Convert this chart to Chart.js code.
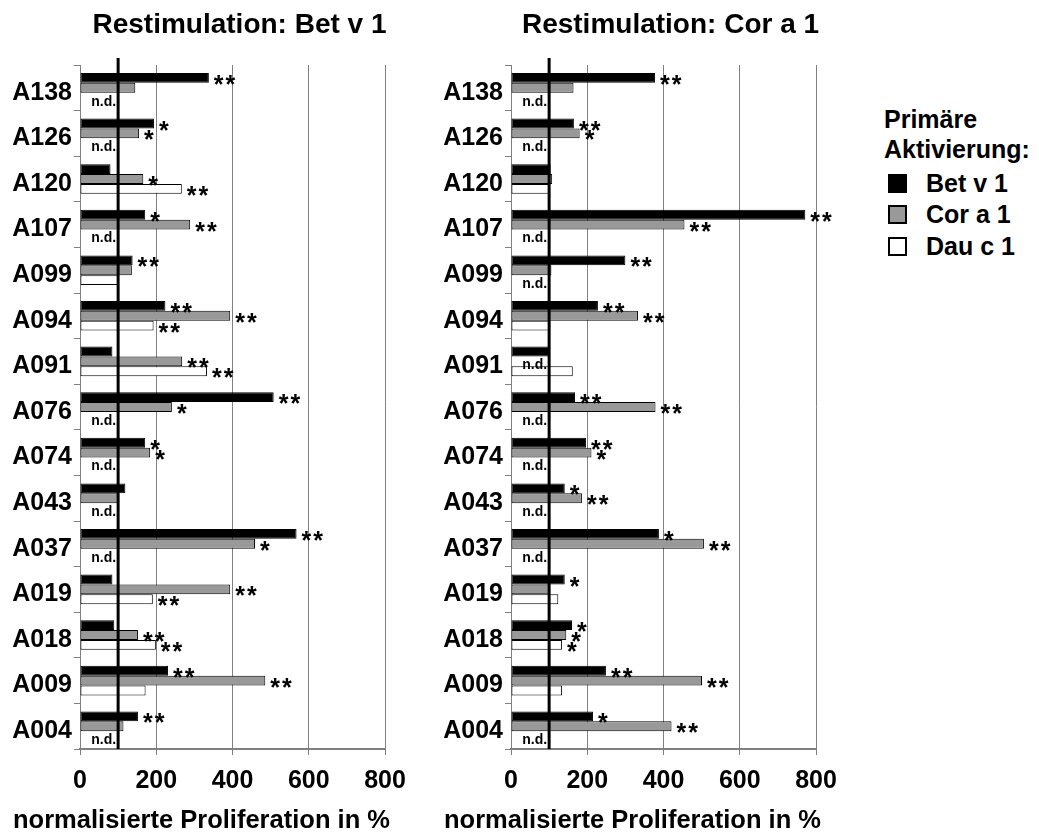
<!DOCTYPE html>
<html><head><meta charset="utf-8">
<script src="https://cdn.jsdelivr.net/npm/chart.js@4/dist/chart.umd.min.js"></script>
<style>
html,body{margin:0;padding:0;background:#fff;width:1039px;height:836px;overflow:hidden;font-family:"Liberation Sans",Arial,sans-serif;}
#c1{position:absolute;left:0;top:0;}
#c2{position:absolute;left:431px;top:0;}
.lg{position:absolute;font-weight:bold;font-size:25px;color:#000;line-height:30px;white-space:nowrap;}
.sq{position:absolute;width:19px;height:19px;box-sizing:border-box;border:2px solid #000;}
</style></head>
<body>
<canvas id="c1" width="430" height="836"></canvas>
<canvas id="c2" width="440" height="836"></canvas>
<div class="lg" style="left:884px;top:104px;">Primäre</div>
<div class="lg" style="left:884px;top:134px;">Aktivierung:</div>
<div class="sq" style="left:888px;top:174px;background:#000;"></div>
<div class="lg" style="left:926px;top:168px;">Bet v 1</div>
<div class="sq" style="left:888px;top:205px;background:#999;"></div>
<div class="lg" style="left:926px;top:199px;">Cor a 1</div>
<div class="sq" style="left:888px;top:237px;background:#fff;"></div>
<div class="lg" style="left:926px;top:231px;">Dau c 1</div>
<script>
const categories = ['A138','A126','A120','A107','A099','A094','A091','A076','A074','A043','A037','A019','A018','A009','A004'];
const seriesNames = ['Bet v 1','Cor a 1','Dau c 1'];
const xTicks = [0,200,400,600,800];
const baseline = 100;

// Restimulation: Bet v 1
const betBet = [338,194,80,171,138,224,85,508,171,119,568,85,90,231,152];
const betCor = [145,155,166,289,136,394,268,241,184,100,459,394,152,486,114];
const betDau = [null,null,267,null,100,193,333,null,null,null,null,191,199,172,null];
const betBetStars = ['**','*','','*','**','**','','**','*','','**','','','**','**'];
const betCorStars = ['','*','*','**','','**','**','*','*','','*','**','**','**',''];
const betDauStars = ['','','**','','','**','**','','','','','**','**','',''];

// Restimulation: Cor a 1
const corBet = [378,165,104,772,300,228,101,168,197,141,388,141,160,249,215];
const corCor = [164,180,108,455,106,333,null,379,211,186,506,100,145,501,421];
const corDau = [null,null,100,null,null,103,162,null,null,null,null,124,134,134,null];
const corBetStars = ['**','**','','**','**','**','','**','**','*','*','*','*','**','*'];
const corCorStars = ['','*','','**','','**','','**','*','**','**','','*','**','**'];
const corDauStars = ['','','','','','','','','','','','','*','',''];

const FONT = '"Liberation Sans", Arial, sans-serif';
const fills = ['#000000','#999999','#ffffff'];

const overlay = {
  id: 'overlay',
  afterDatasetsDraw(chart) {
    const {ctx, chartArea, scales} = chart;
    const xs = scales.x;
    const o = chart.options.plugins.overlay;
    const px100 = xs.getPixelForValue(baseline);
    ctx.save();
    chart.data.datasets.forEach((ds, di) => {
      const meta = chart.getDatasetMeta(di);
      meta.data.forEach((el, i) => {
        const v = ds.data[i];
        if (v === null) {
          ctx.font = 'bold 14px ' + FONT;
          ctx.fillStyle = '#000';
          ctx.textAlign = 'right';
          ctx.textBaseline = 'middle';
          ctx.fillText('n.d.', px100 - 2, el.y + 4);
        } else if (o.stars[di][i]) {
          ctx.font = 'bold 25px ' + FONT;
          ctx.fillStyle = '#000';
          ctx.textAlign = 'left';
          ctx.textBaseline = 'alphabetic';
          if ('letterSpacing' in ctx) ctx.letterSpacing = '2px';
          ctx.fillText(o.stars[di][i], el.x + 5, el.y + 15);
          if ('letterSpacing' in ctx) ctx.letterSpacing = '0px';
        }
      });
    });
    // reference line at 100 %
    ctx.beginPath();
    ctx.lineWidth = 3;
    ctx.strokeStyle = '#000';
    ctx.moveTo(px100, chartArea.top - 7);
    ctx.lineTo(px100, chartArea.bottom);
    ctx.stroke();
    // titles
    const cx = (chartArea.left + chartArea.right) / 2;
    ctx.fillStyle = '#000';
    ctx.textAlign = 'center';
    ctx.textBaseline = 'middle';
    ctx.font = 'bold 28px ' + FONT;
    ctx.fillText(o.title, cx + 7, 25);
    ctx.font = 'bold 25.5px ' + FONT;
    ctx.fillText(o.axisTitle, cx - 31, 821);
    ctx.restore();
  }
};

function makeChart(id, title, vals, stars, padRight) {
  return new Chart(document.getElementById(id), {
    type: 'bar',
    data: {
      labels: categories,
      datasets: vals.map((d, k) => ({
        label: seriesNames[k],
        data: d,
        backgroundColor: fills[k],
        borderColor: '#000',
        borderWidth: 1,
        borderSkipped: false
      }))
    },
    options: {
      indexAxis: 'y',
      responsive: false,
      animation: false,
      devicePixelRatio: 1,
      layout: {padding: {top: 65, right: padRight, left: 0, bottom: 0}},
      datasets: {bar: {categoryPercentage: 0.65, barPercentage: 1.0}},
      plugins: {
        legend: {display: false},
        tooltip: {enabled: false},
        title: {display: false},
        overlay: {title: title, axisTitle: 'normalisierte Proliferation in %', stars: stars}
      },
      scales: {
        x: {
          min: 0, max: 800,
          afterBuildTicks(s) { s.ticks = xTicks.map(v => ({value: v})); },
          ticks: {font: {family: FONT, size: 25, weight: 'bold'}, color: '#000', padding: 11, maxRotation: 0},
          grid: {color: '#808080', lineWidth: 1, tickLength: 6, drawTicks: true},
          border: {color: '#808080', width: 2},
          afterFit(s) { s.height = 87; }
        },
        y: {
          ticks: {font: {family: FONT, size: 25, weight: 'bold'}, color: '#000', padding: 2, labelOffset: 5, autoSkip: false},
          grid: {drawOnChartArea: false, tickLength: 6, color: '#808080', offset: true},
          border: {color: '#808080', width: 1},
          afterFit(s) { s.width = 80; }
        }
      }
    },
    plugins: [overlay]
  });
}

makeChart('c1', 'Restimulation: Bet v 1', [betBet, betCor, betDau], [betBetStars, betCorStars, betDauStars], 45);
makeChart('c2', 'Restimulation: Cor a 1', [corBet, corCor, corDau], [corBetStars, corCorStars, corDauStars], 55);
</script>
</body></html>
